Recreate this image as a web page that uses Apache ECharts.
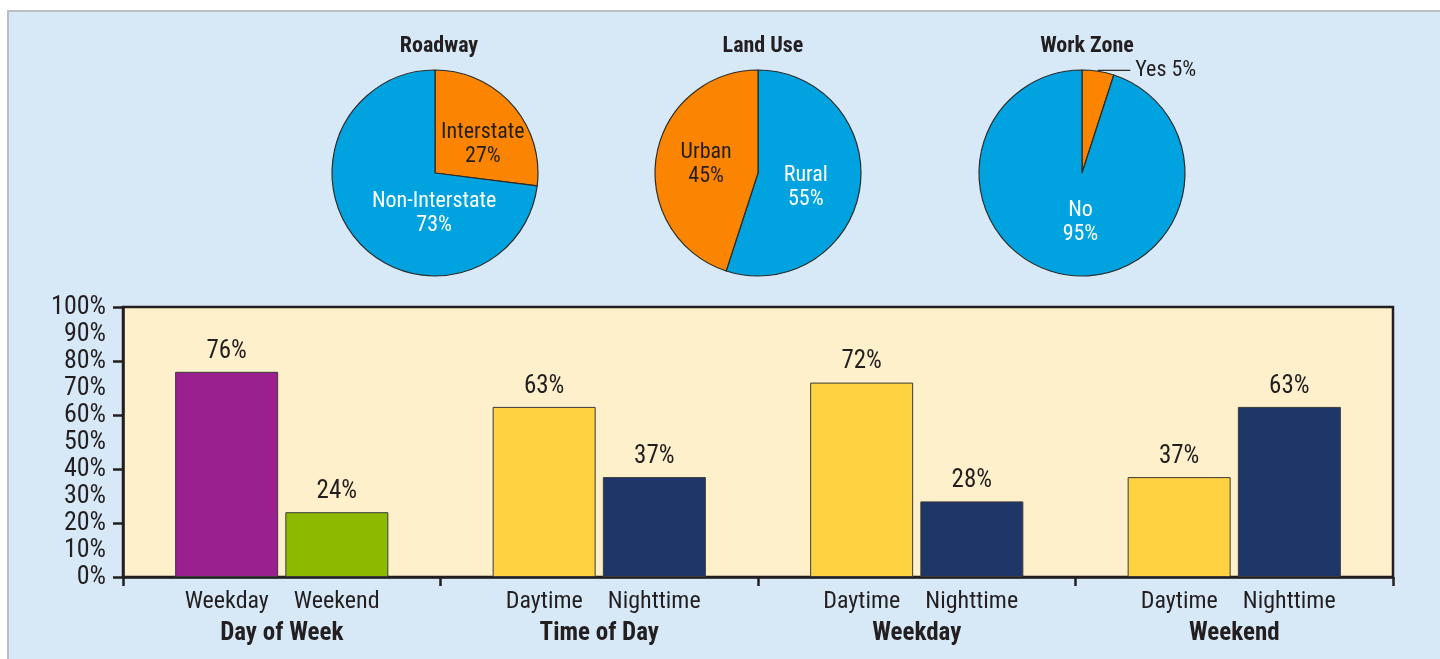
<!DOCTYPE html>
<html>
<head>
<meta charset="utf-8">
<script src="https://cdn.jsdelivr.net/npm/echarts@6/dist/echarts.min.js"></script>
<style>
html,body{margin:0;padding:0;background:#ffffff;width:1440px;height:659px;overflow:hidden;}
#panel{position:absolute;left:7px;top:10px;width:1440px;height:660px;background:#d7e9f7;border-left:2px solid #b9bec3;border-top:2px solid #b9bec3;}
#chart{position:absolute;left:0;top:0;width:1440px;height:659px;}
</style>
</head>
<body>
<div id="panel"></div>
<div id="chart"></div>
<script>
// ---- data ----
var pieTitles = ['Roadway', 'Land Use', 'Work Zone'];
var roadwayNames = ['Interstate', 'Non-Interstate'];
var roadwayValues = [27, 73];
var landUseNames = ['Rural', 'Urban'];
var landUseValues = [55, 45];
var workZoneNames = ['Yes', 'No'];
var workZoneValues = [5, 95];

var groupNames = ['Day of Week', 'Time of Day', 'Weekday', 'Weekend'];
var firstBarNames = ['Weekday', 'Daytime', 'Daytime', 'Daytime'];
var secondBarNames = ['Weekend', 'Nighttime', 'Nighttime', 'Nighttime'];
var firstBarValues = [76, 63, 72, 37];
var secondBarValues = [24, 37, 28, 63];
var yTickLabels = ['0%', '10%', '20%', '30%', '40%', '50%', '60%', '70%', '80%', '90%', '100%'];

// ---- styles ----
var FONT = "'Roboto Condensed', 'Liberation Sans Narrow', 'Roboto', sans-serif";
var ORANGE = '#fb8500';
var BLUE = '#00a3df';
var TXT = '#231f20';
var firstBarColors = ['#9a208f', '#ffd242', '#ffd242', '#ffd242'];
var secondBarColors = ['#8dba00', '#1e3668', '#1e3668', '#1e3668'];

function pieItems(names, values, colors, labelColors) {
  return names.map(function (n, i) {
    return {
      name: n, value: values[i],
      itemStyle: { color: colors[i] },
      label: { color: labelColors[i] }
    };
  });
}

var pieCommon = {
  type: 'pie',
  radius: 103,
  startAngle: 90,
  clockwise: true,
  silent: true,
  animation: false,
  itemStyle: { borderColor: '#2b2b2b', borderWidth: 1.2 },
  label: {
    show: true, position: 'inside', formatter: '{b}\n{c}%',
    fontFamily: FONT, fontSize: 22, lineHeight: 24
  },
  labelLine: { show: false }
};

var roadwayData = pieItems(roadwayNames, roadwayValues, [ORANGE, BLUE], [TXT, '#ffffff']);
var landUseData = pieItems(landUseNames, landUseValues, [BLUE, ORANGE], ['#ffffff', TXT]);
var workZoneData = pieItems(workZoneNames, workZoneValues, [ORANGE, BLUE], [TXT, '#ffffff']);
workZoneData[0].label = { position: 'outside', formatter: '{b} {c}%', color: TXT, fontSize: 22, distance: 2 };
workZoneData[0].labelLine = { show: true, length: 1, length2: 32, lineStyle: { color: '#2b2b2b', width: 1.2 } };

var roadwayShift = [[7, 8], [40, 4]];
var landUseShift = [[-6, 6], [2, 0]];
var workZoneShift = [[0, 0], [7, -4]];
function shifter(arr) {
  return function (p) { var s = arr[p.dataIndex]; return { dx: s[0], dy: s[1] }; };
}

var option = {
  animation: false,
  backgroundColor: 'transparent',
  title: pieTitles.map(function (t, i) {
    return {
      text: t, left: [434, 758, 1082][i], top: 30, textAlign: 'center',
      textStyle: { fontFamily: FONT, fontWeight: 'bold', fontSize: 22, color: TXT }
    };
  }),
  grid: {
    left: 123, right: 47, top: 307, bottom: 82,
    show: true, backgroundColor: '#fef0ca', borderColor: '#231f20', borderWidth: 2.5
  },
  xAxis: {
    type: 'category',
    data: groupNames,
    axisLine: { show: true, lineStyle: { color: '#231f20', width: 2.5 } },
    axisTick: { show: true, length: 9, lineStyle: { color: '#231f20', width: 2.5 } },
    splitLine: {
      show: true,
      interval: function (i) { return i === 1; },
      lineStyle: { color: '#231f20', width: 2 }
    },
    axisLabel: {
      margin: 10,
      formatter: function (v, i) {
        return '{a|' + firstBarNames[i] + '}{a|' + secondBarNames[i] + '}\n{b|' + v + '}';
      },
      rich: {
        a: { fontFamily: FONT, fontSize: 24, color: TXT, width: 110, align: 'center', lineHeight: 30 },
        b: { fontFamily: FONT, fontSize: 25, fontWeight: 'bold', color: TXT, align: 'center', lineHeight: 34 }
      }
    }
  },
  yAxis: [
    {
      type: 'value', min: 0, max: 100, interval: 10,
      axisLine: { show: false }, axisTick: { show: false }, splitLine: { show: false },
      axisLabel: {
        margin: 17,
        formatter: function (v) { return yTickLabels[Math.round(v / 10)]; },
        fontFamily: FONT, fontSize: 26, color: TXT
      }
    },
    {
      type: 'value', min: 0, max: 100, interval: 20, position: 'left',
      axisLine: { show: true, lineStyle: { color: '#231f20', width: 2.5 } },
      axisTick: { show: true, length: 10, lineStyle: { color: '#231f20', width: 2.5 } },
      axisLabel: { show: false }, splitLine: { show: false }
    }
  ],
  series: [
    Object.assign({}, pieCommon, { center: [435, 173], data: roadwayData, labelLayout: shifter(roadwayShift) }),
    Object.assign({}, pieCommon, { center: [758, 173], data: landUseData, labelLayout: shifter(landUseShift) }),
    Object.assign({}, pieCommon, { center: [1082, 173], data: workZoneData, labelLayout: shifter(workZoneShift) }),
    {
      type: 'bar', yAxisIndex: 0, barWidth: 103, barGap: '7%',
      data: firstBarValues.map(function (v, i) { return { value: v, itemStyle: { color: firstBarColors[i] } }; }),
      itemStyle: { borderColor: '#3a3a3a', borderWidth: 1 },
      label: { show: true, position: 'top', distance: 8, formatter: '{c}%', fontFamily: FONT, fontSize: 25, color: TXT }
    },
    {
      type: 'bar', yAxisIndex: 0, barWidth: 103,
      data: secondBarValues.map(function (v, i) { return { value: v, itemStyle: { color: secondBarColors[i] } }; }),
      itemStyle: { borderColor: '#3a3a3a', borderWidth: 1 },
      label: { show: true, position: 'top', distance: 8, formatter: '{c}%', fontFamily: FONT, fontSize: 25, color: TXT }
    }
  ]
};

var chart = echarts.init(document.getElementById('chart'), null, { renderer: 'canvas' });
chart.setOption(option);
</script>
</body>
</html>
